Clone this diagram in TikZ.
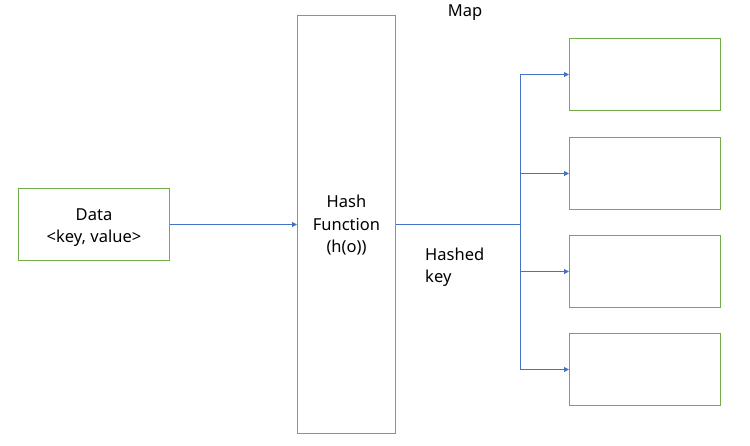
\documentclass[tikz,border=0pt]{standalone}
\usepackage{fontspec}
\setmainfont{Noto Sans}
\usetikzlibrary{arrows.meta}
\definecolor{boxgreen}{HTML}{70AD47}
\definecolor{lineblue}{HTML}{4472C4}
\begin{document}
\begin{tikzpicture}[x=1pt,y=-1pt,
  gbox/.style={draw=boxgreen,line width=1pt,fill=white,inner sep=0pt,anchor=north west},
  conn/.style={draw=lineblue,line width=1pt,-{Triangle[length=5pt,width=5pt]}},
  bus/.style={draw=lineblue,line width=1pt},
  lbl/.style={font=\fontsize{16.5}{22.5}\selectfont,align=center,inner sep=0pt}]
\useasboundingbox (0,0) rectangle (750,445);
\node[gbox,minimum width=151pt,minimum height=72pt] (data) at (18,188) {};
\node[lbl] (datat) at ([yshift=-3pt]data.center) {Data\\<key, value>};
\node[gbox,minimum width=98pt,minimum height=418pt] (hash) at (297,15) {};
\node[lbl] (hasht) at ([yshift=-1pt]hash.center) {Hash\\Function\\(h(o))};
\node[lbl] (map) at (465,13) {Map};
\node[lbl,align=left,anchor=west] (hk) at (425,267) {Hashed\\key};
\node[gbox,minimum width=151pt,minimum height=72pt] (b1) at (569,38) {};
\node[gbox,minimum width=151pt,minimum height=72pt] (b2) at (569,137) {};
\node[gbox,minimum width=151pt,minimum height=72pt] (b3) at (569,235) {};
\node[gbox,minimum width=151pt,minimum height=72pt] (b4) at (569,333) {};
\coordinate (j) at (520,224);
\draw[conn] (data.east) -- (data.east -| hash.west);
\draw[bus] (hash.east |- j) -- (j);
\draw[bus] (j |- b1.west) -- (j |- b4.west);
\draw[conn] (j |- b1.west) -- (b1.west);
\draw[conn] (j |- b2.west) -- (b2.west);
\draw[conn] (j |- b3.west) -- (b3.west);
\draw[conn] (j |- b4.west) -- (b4.west);
\end{tikzpicture}
\end{document}
